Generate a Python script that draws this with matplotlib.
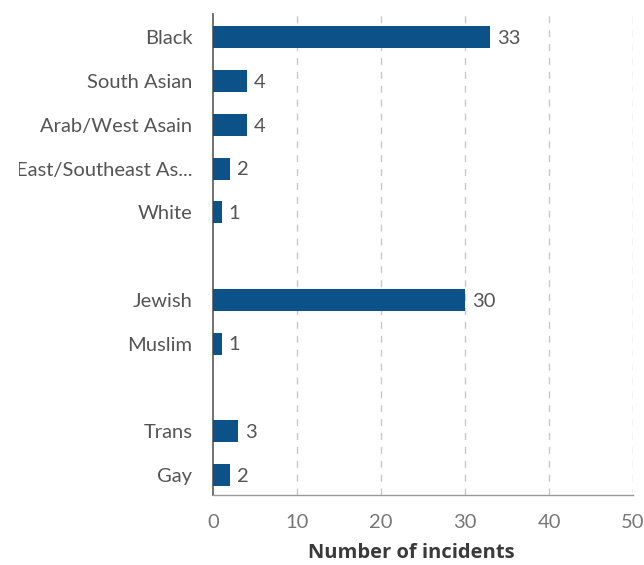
import matplotlib
matplotlib.use("Agg")
import matplotlib.pyplot as plt
from matplotlib.transforms import Bbox, TransformedBbox

categories = ["Black", "South Asian", "Arab/West Asain", "East/Southeast As...", "White",
              "", "Jewish", "Muslim", "", "Trans", "Gay"]
values = [33, 4, 4, 2, 1, None, 30, 1, None, 3, 2]
xticks = [0, 10, 20, 30, 40, 50]

bar_color = "#0d5189"
text_color = "#555555"

fig = plt.figure(figsize=(6.44, 5.65), dpi=100)
ax = fig.add_axes([0.331, 0.124, 0.652, 0.851])

pos = list(range(len(categories)))
for p, v in zip(pos, values):
    if v is None:
        continue
    ax.barh(p, v, height=0.5, color=bar_color, zorder=3)
    ax.text(v + 0.8, p + 0.03, str(v), va="center", ha="left", fontsize=14.5,
            color=text_color, family="Lato", zorder=4)

ax.set_ylim(10.46, -0.53)
ax.set_xlim(0, 50)
ax.set_yticks([p for p, c in zip(pos, categories) if c])
ax.set_yticklabels([c for c in categories if c], fontsize=14.5, color=text_color, family="Lato")
ax.set_xticks(xticks)
ax.set_xticklabels([str(t) for t in xticks], fontsize=14.5, color="#777777", family="Lato")
ax.tick_params(axis="both", length=0)
ax.tick_params(axis="y", pad=15)
ax.tick_params(axis="x", pad=14)

# the long label is cut at its left side in the reference
clip = TransformedBbox(Bbox([[19.0 / 644, 0], [1, 1]]), fig.transFigure)
for lbl in ax.get_yticklabels():
    if lbl.get_text().startswith("East"):
        lbl.set_clip_on(True)
        lbl.set_clip_box(clip)

for t in xticks[1:]:
    ax.axvline(t, color="#c8c8c8", lw=1, ls=(0, (5, 5)), zorder=1)

for s in ["top", "right"]:
    ax.spines[s].set_visible(False)
ax.spines["left"].set_color("#666666")
ax.spines["left"].set_linewidth(1.3)
ax.spines["bottom"].set_color("#999999")
ax.spines["bottom"].set_linewidth(1.0)

ax.set_xlabel("Number of incidents", fontsize=14.5, fontweight="bold", color="#3a3a3a",
              family="Open Sans")
ax.xaxis.set_label_coords(0.471, -0.1)

fig.savefig("out.png", dpi=100)
